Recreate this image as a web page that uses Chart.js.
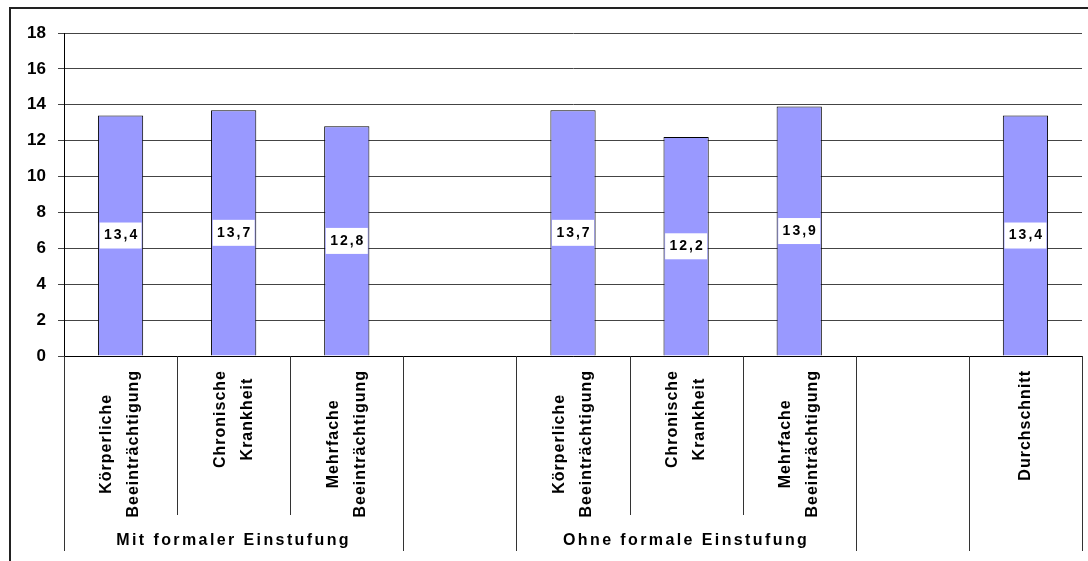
<!DOCTYPE html>
<html lang="de">
<head>
    <meta charset="UTF-8">
    <title>Einstufung</title>
    <style>
        html, body {
            margin: 0;
            padding: 0;
            background: #fff;
        }
        #chart {
            display: block;
        }
    </style>
</head>
<body>
    <canvas id="chart" width="1088" height="561"></canvas>
    <script src="https://cdn.jsdelivr.net/npm/chart.js"></script>
    <script>
        // categories (empty slots are gaps between groups)
        const categories = [
            ['Körperliche', 'Beeinträchtigung'],
            ['Chronische', 'Krankheit'],
            ['Mehrfache', 'Beeinträchtigung'],
            [''],
            ['Körperliche', 'Beeinträchtigung'],
            ['Chronische', 'Krankheit'],
            ['Mehrfache', 'Beeinträchtigung'],
            [''],
            ['Durchschnitt']
        ];
        const values = [13.4, 13.7, 12.8, null, 13.7, 12.2, 13.9, null, 13.4];
        const yTicks = [0, 2, 4, 6, 8, 10, 12, 14, 16, 18];

        // group labels with first and last category index
        const groupNames = ['Mit formaler Einstufung', 'Ohne formale Einstufung'];
        const groupStart = [0, 4];
        const groupEnd = [2, 6];
        // category boundaries that run down to the bottom
        const fullBoundaries = [0, 3, 4, 7, 8, 9];

        const extras = {
            id: 'extras',
            beforeDraw(chart) {
                const ctx = chart.ctx;
                ctx.save();
                ctx.fillStyle = '#fff';
                ctx.fillRect(0, 0, chart.width, chart.height);
                // outer frame
                ctx.strokeStyle = '#222';
                ctx.lineWidth = 2;
                ctx.beginPath();
                ctx.moveTo(10, 561);
                ctx.lineTo(10, 8);
                ctx.lineTo(1088, 8);
                ctx.stroke();
                ctx.restore();
            },
            afterDraw(chart) {
                const ctx = chart.ctx;
                const x = chart.scales.x;
                const area = chart.chartArea;
                const step = x.getPixelForValue(1) - x.getPixelForValue(0);

                ctx.save();
                // separators under the axis
                ctx.strokeStyle = '#333';
                ctx.lineWidth = 1;
                for (let i = 0; i <= categories.length; i++) {
                    const px = Math.round(x.getPixelForValue(i) - step / 2) + 0.5;
                    const bottom = fullBoundaries.includes(i) ? 551 : 515;
                    ctx.beginPath();
                    ctx.moveTo(px, area.bottom);
                    ctx.lineTo(px, bottom);
                    ctx.stroke();
                }

                // rotated category labels
                ctx.fillStyle = '#000';
                ctx.font = 'bold 16px "Liberation Sans", Arial, sans-serif';
                ctx.letterSpacing = '1px';
                ctx.textAlign = 'center';
                ctx.textBaseline = 'middle';
                categories.forEach((lines, i) => {
                    const maxW = Math.max(...lines.map(l => ctx.measureText(l).width));
                    const cx = x.getPixelForValue(i);
                    const cy = 370 + maxW / 2;
                    ctx.save();
                    ctx.translate(cx, cy);
                    ctx.rotate(-Math.PI / 2);
                    lines.forEach((l, j) => {
                        ctx.fillText(l, 0, (j - (lines.length - 1) / 2) * 27);
                    });
                    ctx.restore();
                });

                // group labels
                ctx.letterSpacing = '2.4px';
                groupNames.forEach((name, g) => {
                    const left = x.getPixelForValue(groupStart[g]) - step / 2;
                    const right = x.getPixelForValue(groupEnd[g]) + step / 2;
                    ctx.fillText(name, (left + right) / 2, 541);
                });

                // value labels in white boxes
                ctx.font = 'bold 14px "Liberation Sans", Arial, sans-serif';
                ctx.letterSpacing = '2px';
                const meta = chart.getDatasetMeta(0);
                meta.data.forEach((bar, i) => {
                    if (values[i] === null) return;
                    const cy = (bar.y + bar.base) / 2;
                    ctx.fillStyle = '#fff';
                    ctx.fillRect(bar.x - 21, cy - 13, 42, 26);
                    ctx.fillStyle = '#000';
                    ctx.fillText(values[i].toFixed(1).replace('.', ','), bar.x + 1, cy);
                });
                ctx.restore();
            }
        };

        const ctx = document.getElementById('chart').getContext('2d');
        new Chart(ctx, {
            type: 'bar',
            data: {
                labels: categories,
                datasets: [{
                    data: values,
                    backgroundColor: '#9999ff',
                    borderColor: '#000',
                    borderWidth: 1,
                    categoryPercentage: 1,
                    barPercentage: 0.4
                }]
            },
            options: {
                responsive: false,
                animation: false,
                layout: {
                    padding: { left: 0, top: 33, right: 6, bottom: 205 }
                },
                plugins: {
                    legend: { display: false },
                    tooltip: { enabled: false }
                },
                scales: {
                    x: {
                        grid: { display: false },
                        ticks: { display: false },
                        border: { display: true, color: '#000', width: 1 },
                        afterFit(scale) { scale.height = 0; }
                    },
                    y: {
                        min: 0,
                        max: 18,
                        afterBuildTicks(scale) {
                            scale.ticks = yTicks.map(v => ({ value: v }));
                        },
                        afterFit(scale) { scale.width = 64; },
                        grid: { color: '#444', lineWidth: 1, tickLength: 6 },
                        border: { color: '#000', width: 1 },
                        ticks: {
                            color: '#000',
                            padding: 12,
                            font: { family: '"Liberation Sans", Arial, sans-serif', size: 17, weight: 'bold' }
                        }
                    }
                }
            },
            plugins: [extras]
        });
    </script>
</body>
</html>
